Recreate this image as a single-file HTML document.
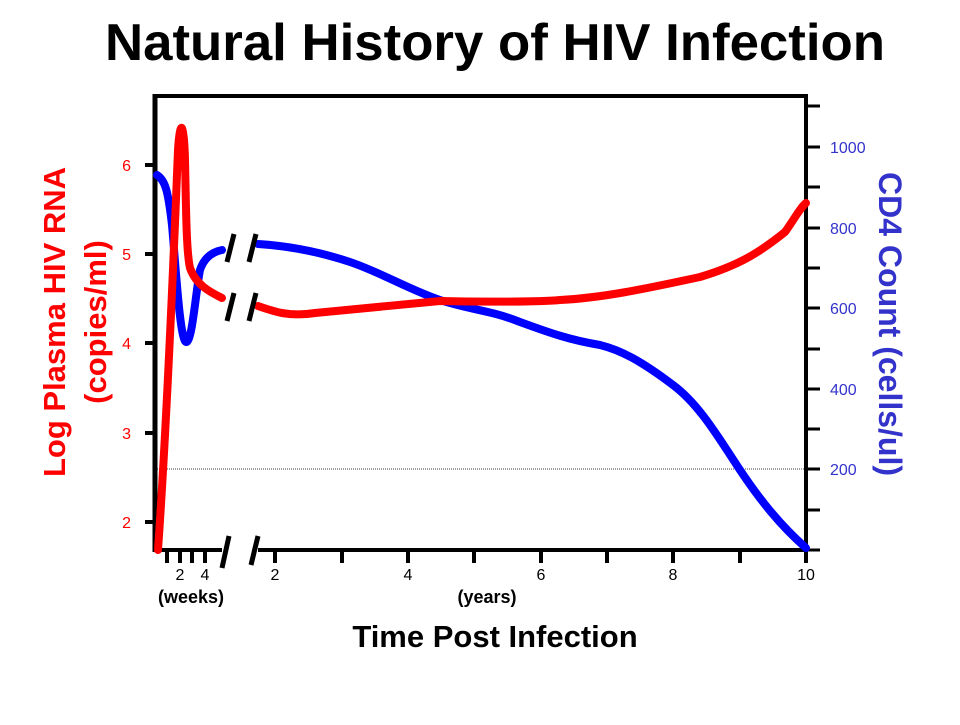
<!DOCTYPE html>
<html><head><style>body{margin:0;background:#fff}</style></head><body>
<svg width="960" height="720" xmlns="http://www.w3.org/2000/svg" font-family="Liberation Sans, Arial, sans-serif">
<text x="495" y="60" font-size="52" font-weight="bold" text-anchor="middle" textLength="780" lengthAdjust="spacingAndGlyphs">Natural History of HIV Infection</text>
<line x1="155" y1="469" x2="806" y2="469" stroke="#444" stroke-width="1" stroke-dasharray="1,1"/>
<path d="M155,96 H806 V552" fill="none" stroke="#000" stroke-width="4"/>
<line x1="155" y1="94" x2="155" y2="552" stroke="#000" stroke-width="5"/>
<line x1="153" y1="550" x2="222" y2="550" stroke="#000" stroke-width="4"/>
<line x1="258" y1="550" x2="808" y2="550" stroke="#000" stroke-width="4"/>
<g stroke="#000" stroke-width="4">
<line x1="145" y1="165" x2="155" y2="165"/><line x1="145" y1="254" x2="155" y2="254"/><line x1="145" y1="343" x2="155" y2="343"/><line x1="145" y1="433" x2="155" y2="433"/><line x1="145" y1="522" x2="155" y2="522"/>
</g>
<g fill="#f00" font-size="16" text-anchor="end">
<text x="131" y="171">6</text><text x="131" y="260">5</text><text x="131" y="349">4</text><text x="131" y="439">3</text><text x="131" y="528">2</text>
</g>
<g stroke="#000" stroke-width="3">
<line x1="806" y1="106" x2="820" y2="106"/><line x1="806" y1="147" x2="820" y2="147"/><line x1="806" y1="187" x2="820" y2="187"/><line x1="806" y1="228" x2="820" y2="228"/><line x1="806" y1="268" x2="820" y2="268"/><line x1="806" y1="308" x2="820" y2="308"/><line x1="806" y1="349" x2="820" y2="349"/><line x1="806" y1="389" x2="820" y2="389"/><line x1="806" y1="429" x2="820" y2="429"/><line x1="806" y1="469" x2="820" y2="469"/><line x1="806" y1="510" x2="820" y2="510"/><line x1="806" y1="550" x2="820" y2="550"/>
</g>
<g fill="#3333cc" font-size="16">
<text x="830" y="153">1000</text><text x="830" y="234">800</text><text x="830" y="314">600</text><text x="830" y="395">400</text><text x="830" y="475">200</text>
</g>
<g stroke="#000" stroke-width="4">
<line x1="167" y1="550" x2="167" y2="563"/><line x1="180" y1="550" x2="180" y2="563"/><line x1="192" y1="550" x2="192" y2="563"/><line x1="205" y1="550" x2="205" y2="563"/>
<line x1="275" y1="550" x2="275" y2="563"/><line x1="342" y1="550" x2="342" y2="563"/><line x1="408" y1="550" x2="408" y2="563"/><line x1="474" y1="550" x2="474" y2="563"/><line x1="541" y1="550" x2="541" y2="563"/><line x1="607" y1="550" x2="607" y2="563"/><line x1="673" y1="550" x2="673" y2="563"/><line x1="740" y1="550" x2="740" y2="563"/><line x1="806" y1="550" x2="806" y2="563"/>
</g>
<g font-size="16" text-anchor="middle">
<text x="180" y="580">2</text><text x="205" y="580">4</text><text x="275" y="580">2</text><text x="408" y="580">4</text><text x="541" y="580">6</text><text x="673" y="580">8</text><text x="806" y="580">10</text>
</g>
<g font-size="18" font-weight="bold" text-anchor="middle">
<text x="191" y="603">(weeks)</text><text x="487" y="603">(years)</text>
</g>
<text x="495" y="647" font-size="31" font-weight="bold" text-anchor="middle">Time Post Infection</text>
<text transform="translate(65,322) rotate(-90)" font-size="31" font-weight="bold" fill="#f00" text-anchor="middle">Log Plasma HIV RNA</text>
<text transform="translate(106,322) rotate(-90)" font-size="31" font-weight="bold" fill="#f00" text-anchor="middle">(copies/ml)</text>
<text transform="translate(879,324) rotate(90)" font-size="32" font-weight="bold" fill="#3333cc" text-anchor="middle">CD4 Count (cells/ul)</text>
<g fill="none" stroke-width="8" stroke-linecap="round" stroke-linejoin="round">
<path stroke="#00f" d="M157,175 C165,180 168,190 172,225 C176,270 180,340 186,342 C192,344 196,290 200,270 C204,258 212,252 222,250"/>
<path stroke="#00f" d="M258,244 C290,246 320,252 350,262 C380,272 410,290 440,300 C470,310 490,310 520,322 C550,333 570,340 600,345 C620,350 640,360 673,385 C700,405 720,440 740,470 C760,500 780,525 806,548"/>
<path stroke="#f00" d="M158,550 C165,450 172,300 178,150 C180,118 184,120 185,160 C186,200 186,250 190,268 C196,285 210,292 222,298"/>
<path stroke="#f00" d="M258,306 C275,312 290,317 315,313 C360,309 400,305 440,301 C480,302 540,302 560,300 C600,298 640,290 700,277 C740,265 760,252 785,232 C795,218 800,208 806,203"/>
</g>
<g stroke="#000" stroke-width="5">
<line x1="227" y1="262" x2="234" y2="234"/><line x1="249" y1="262" x2="256" y2="234"/>
<line x1="227" y1="321" x2="234" y2="293"/><line x1="249" y1="321" x2="256" y2="293"/>
<line x1="222" y1="568" x2="229" y2="536"/><line x1="251" y1="565" x2="258" y2="536"/>
</g>
</svg>
</body></html>
